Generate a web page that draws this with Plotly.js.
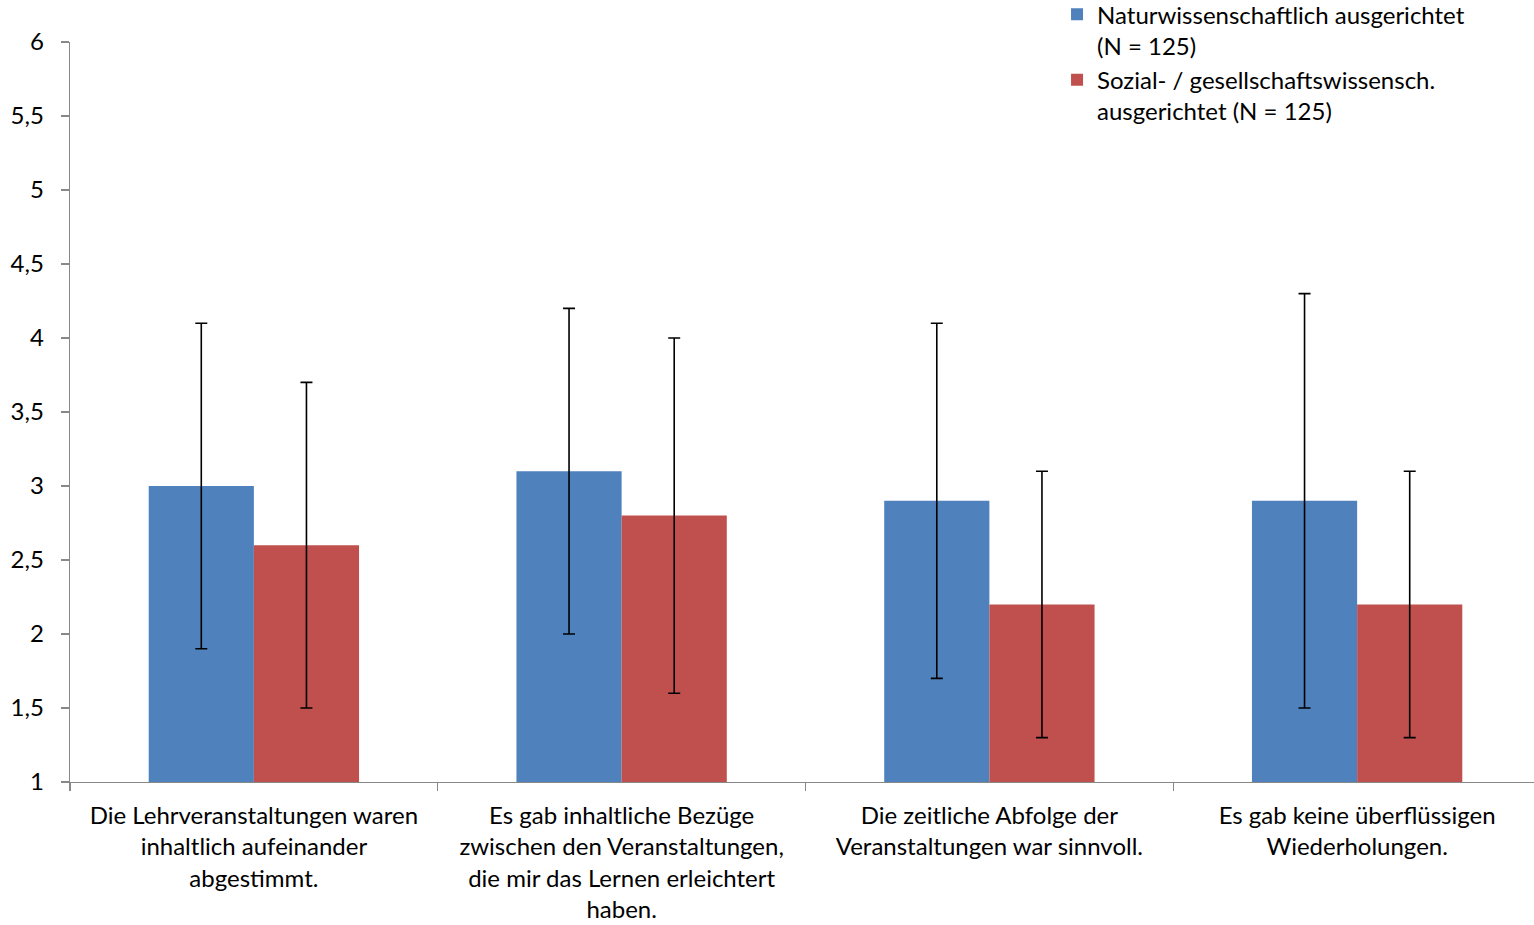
<!DOCTYPE html>
<html>
<head>
<meta charset="utf-8">
<script src="https://cdn.plot.ly/plotly-3.0.1.min.js"></script>
<style>html,body{margin:0;padding:0;background:#fff;overflow:hidden;}#chart{width:1541px;height:925px;}</style>
</head>
<body>
<div id="chart"></div>
<script>
const categories = [
  "Die Lehrveranstaltungen waren<br>inhaltlich aufeinander<br>abgestimmt.",
  "Es gab inhaltliche Bezüge<br>zwischen den Veranstaltungen,<br>die mir das Lernen erleichtert<br>haben.",
  "Die zeitliche Abfolge der<br>Veranstaltungen war sinnvoll.",
  "Es gab keine überflüssigen<br>Wiederholungen."
];
const seriesNames = [
  "Naturwissenschaftlich ausgerichtet<br>(N = 125)",
  "Sozial- / gesellschaftswissensch.<br>ausgerichtet (N = 125)"
];
const naturMeans = [3.0, 3.1, 2.9, 2.9];
const naturSD = [1.1, 1.1, 1.2, 1.4];
const sozialMeans = [2.6, 2.8, 2.2, 2.2];
const sozialSD = [1.1, 1.2, 0.9, 0.9];
const yTickVals = [1, 1.5, 2, 2.5, 3, 3.5, 4, 4.5, 5, 5.5, 6];

const FONT = "Lato, 'Open Sans', sans-serif";
const FS = 24;
const errStyle = {type: 'data', visible: true, color: '#000', thickness: 1.6, width: 6};

const traces = [
  {type: 'bar', name: seriesNames[0], x: categories, y: naturMeans,
   marker: {color: '#4F81BD'}, error_y: Object.assign({array: naturSD}, errStyle)},
  {type: 'bar', name: seriesNames[1], x: categories, y: sozialMeans,
   marker: {color: '#C0504D'}, error_y: Object.assign({array: sozialSD}, errStyle)}
];

const layout = {
  width: 1541, height: 925,
  margin: {l: 70, r: 0, t: 0, b: 143, pad: 0, autoexpand: false},
  paper_bgcolor: '#fff', plot_bgcolor: '#fff',
  separators: ', ',
  font: {family: FONT, size: FS, color: '#000'},
  barmode: 'group', bargap: 0.428, bargroupgap: 0,
  showlegend: true,
  legend: {x: 0.671, y: 1.01, xanchor: 'left', yanchor: 'top', valign: 'top',
           font: {family: FONT, size: FS, color: '#000'},
           tracegroupgap: 0, itemwidth: 30, bgcolor: 'rgba(0,0,0,0)'},
  xaxis: {type: 'category', showline: true, linecolor: '#888', linewidth: 1.3,
          ticks: 'outside', tickson: 'boundaries', ticklen: 8, tickcolor: '#888', tickwidth: 1.3,
          showgrid: false, zeroline: false, ticklabelstandoff: 12,
          tickfont: {family: FONT, size: FS, color: '#000'}},
  yaxis: {range: [1, 6], domain: [0, 0.9463], tickvals: yTickVals, showline: true, linecolor: '#888', linewidth: 1.3,
          ticks: 'outside', ticklen: 8, tickcolor: '#888', tickwidth: 1.3,
          showgrid: false, zeroline: false, ticklabelstandoff: 12,
          tickfont: {family: FONT, size: FS, color: '#000'}}
};

Plotly.newPlot('chart', traces, layout, {displayModeBar: false, staticPlot: true});
</script>
</body>
</html>
